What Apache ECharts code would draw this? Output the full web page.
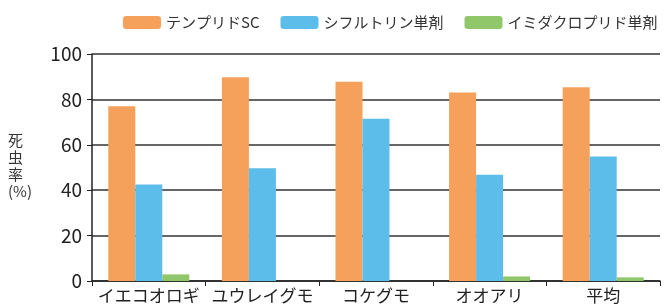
<!DOCTYPE html>
<html>
<head>
<meta charset="utf-8">
<style>
  html, body { margin: 0; padding: 0; background: #fff; }
  #chart { width: 669px; height: 306px; }
</style>
<script src="https://cdn.jsdelivr.net/npm/echarts@6/dist/echarts.min.js"></script>
</head>
<body>
<div id="chart"></div>
<script>
// カテゴリ
var categories = ['イエコオロギ', 'ユウレイグモ', 'コケグモ', 'オオアリ', '平均'];
// 系列名
var seriesNames = ['テンプリドSC', 'シフルトリン単剤', 'イミダクロプリド単剤'];
// 死虫率 (%)
var tenpuridoSC = [77, 89.8, 87.8, 83, 85.3];
var cyfluthrin = [42.5, 49.7, 71.5, 46.8, 54.8];
var imidacloprid = [2.9, 0, 0, 2.0, 1.6];
var yTicks = [0, 20, 40, 60, 80, 100];

var font = '"Noto Sans CJK JP", "Noto Sans", sans-serif';
var colors = ['#F5A05B', '#5CBDEA', '#90C76B'];

var myChart = echarts.init(document.getElementById('chart'));
var option = {
  animation: false,
  textStyle: { fontFamily: font },
  // 凡例
  legend: {
    data: seriesNames,
    top: 10,
    left: 118,
    itemWidth: 38,
    itemHeight: 13,
    itemGap: 21,
    textStyle: { fontSize: 15, color: '#333', fontFamily: font }
  },
  grid: {
    left: 92,
    right: 9,
    top: 54,
    bottom: 25,
    containLabel: false
  },
  // 縦軸名
  graphic: [
    {
      type: 'text',
      left: 8,
      top: 132,
      style: {
        text: '死\n虫\n率\n(%)',
        font: '15px ' + font,
        fill: '#333',
        align: 'center',
        lineHeight: 17
      }
    }
  ],
  xAxis: {
    type: 'category',
    data: categories,
    axisLine: { lineStyle: { color: '#222', width: 1.5 } },
    axisTick: { show: true, length: 5, lineStyle: { color: '#222' } },
    axisLabel: { fontSize: 17, color: '#222', margin: 6, fontFamily: font, interval: 0 }
  },
  yAxis: {
    type: 'value',
    min: yTicks[0],
    max: yTicks[yTicks.length - 1],
    interval: 20,
    axisLine: { show: true, lineStyle: { color: '#222', width: 1.5 } },
    axisTick: { show: true, length: 5, lineStyle: { color: '#222' } },
    axisLabel: { fontSize: 19, color: '#222', margin: 10, fontFamily: font },
    splitLine: { lineStyle: { color: '#333', width: 1.5 } }
  },
  series: [
    { name: seriesNames[0], type: 'bar', data: tenpuridoSC, barWidth: 27, barGap: '0%', itemStyle: { color: colors[0] } },
    { name: seriesNames[1], type: 'bar', data: cyfluthrin, barWidth: 27, barGap: '0%', itemStyle: { color: colors[1] } },
    { name: seriesNames[2], type: 'bar', data: imidacloprid, barWidth: 27, barGap: '0%', itemStyle: { color: colors[2] } }
  ]
};
option && myChart.setOption(option);
</script>
</body>
</html>
